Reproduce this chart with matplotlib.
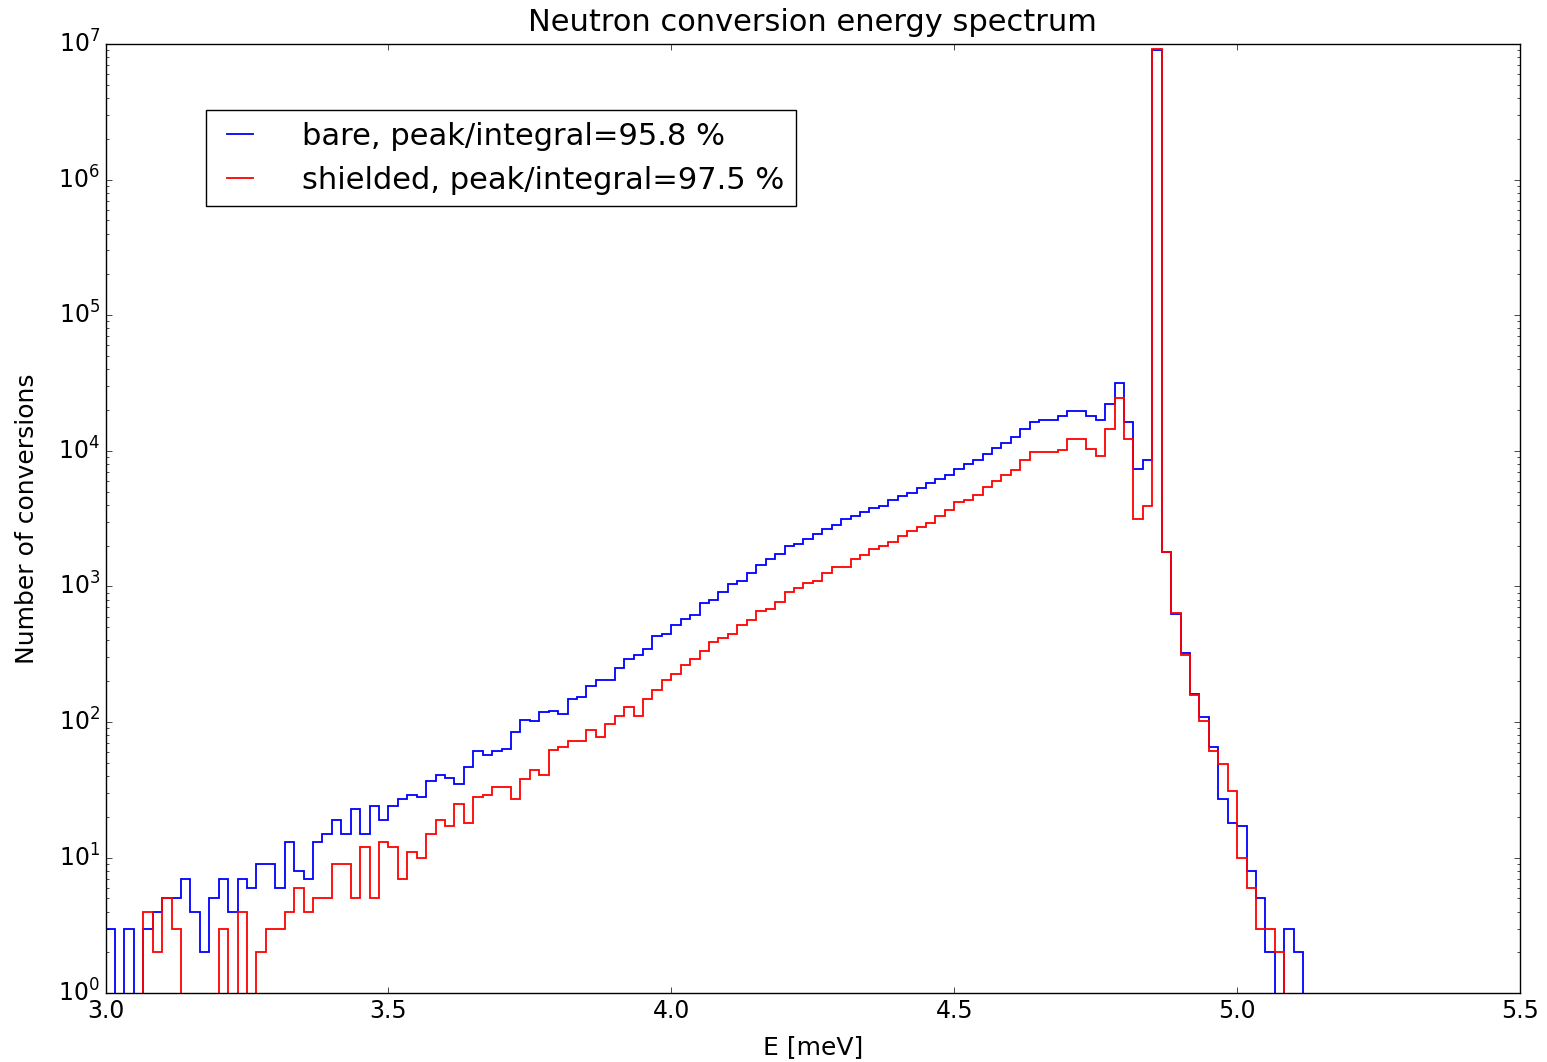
import matplotlib
matplotlib.use("Agg")
import matplotlib.pyplot as plt
from matplotlib.lines import Line2D
import numpy as np

# Histogram binning: 1/60 meV bins starting at 3.0 meV
e_start = 3.0
bin_width = 1.0 / 60.0

# Counts per bin, bare detector
bare_counts = [
    3, 0, 3, 0, 3, 4, 5, 5, 7, 4,
    2, 5, 7, 4, 7, 6, 9, 9, 6, 13,
    8, 7, 13, 15, 19, 15, 23, 15, 24, 19,
    24, 27, 29, 28, 37, 41, 39, 35, 47, 61,
    57, 61, 63, 85, 104, 101, 118, 121, 115, 147,
    154, 185, 205, 205, 249, 292, 313, 346, 431, 444,
    520, 576, 616, 751, 795, 906, 1038, 1104, 1250, 1441,
    1587, 1737, 2000, 2056, 2250, 2427, 2641, 2843, 3133, 3313,
    3563, 3776, 3926, 4346, 4650, 4917, 5298, 5826, 6169, 6641,
    7315, 7965, 8570, 9433, 10450, 11490, 12720, 14500, 16420, 16900,
    16900, 18070, 19780, 19780, 18070, 16900, 22180, 31500, 16420, 7315,
    8570, 9.1e6, 1806, 630, 325, 160, 109, 66, 27, 18,
    17, 8, 5, 2, 0, 3, 2,
]

# Counts per bin, shielded detector
shielded_counts = [
    0, 0, 0, 0, 4, 2, 5, 3, 0, 0,
    0, 0, 3, 0, 4, 0, 2, 3, 3, 4,
    6, 4, 5, 5, 9, 9, 5, 12, 5, 13,
    12, 7, 11, 10, 15, 19, 17, 25, 18, 28,
    29, 33, 33, 27, 38, 44, 41, 62, 66, 73,
    73, 87, 77, 97, 111, 130, 111, 147, 172, 205,
    225, 264, 292, 334, 391, 415, 444, 520, 566, 663,
    682, 772, 906, 970, 1067, 1100, 1250, 1400, 1400, 1587,
    1708, 1880, 1990, 2140, 2357, 2580, 2761, 2953, 3327, 3666,
    4224, 4346, 4730, 5450, 6030, 6641, 7230, 8570, 9770, 9770,
    9770, 10160, 12240, 12240, 10330, 9170, 14430, 24430, 12240, 3133,
    3926, 9.2e6, 1806, 634, 313, 157, 102, 61, 49, 31,
    10, 6, 3, 3, 2, 0, 0,
]

bare_label = "bare, peak/integral=95.8 %"
shielded_label = "shielded, peak/integral=97.5 %"


def plot_spectrum():
    plt.style.use("classic")
    plt.rcParams["font.family"] = ["DejaVu Sans"]

    n_bins = len(bare_counts)
    edges = e_start + bin_width * np.arange(n_bins + 1)
    centers = 0.5 * (edges[:-1] + edges[1:])

    fig = plt.figure(figsize=(15.47, 10.62), dpi=100, facecolor="white")
    ax = fig.add_axes([0.0682, 0.0647, 0.9144, 0.8939])

    ax.hist(centers, bins=edges, weights=bare_counts, histtype="step",
            log=True, color="b", linewidth=1.3)
    ax.hist(centers, bins=edges, weights=shielded_counts, histtype="step",
            log=True, color="r", linewidth=1.3)

    ax.set_xlim(3.0, 5.5)
    ax.set_ylim(1, 1e7)
    ax.set_xticks([3.0, 3.5, 4.0, 4.5, 5.0, 5.5])
    ax.tick_params(labelsize=17)

    ax.set_title("Neutron conversion energy spectrum", fontsize=22, pad=9.5)
    ax.set_xlabel("E [meV]", fontsize=18, labelpad=8.5)
    ax.set_ylabel("Number of conversions", fontsize=18, labelpad=14)

    # Line handles like the old-style legend
    handles = [Line2D([], [], color="b", linewidth=1.3),
               Line2D([], [], color="r", linewidth=1.3)]
    ax.legend(handles, [bare_label, shielded_label], loc="upper left",
              bbox_to_anchor=(0.071, 0.9305), borderaxespad=0,
              fontsize=22, handlelength=1.45, handletextpad=1.33,
              borderpad=0.38, labelspacing=0.5, numpoints=2, frameon=True,
              fancybox=False)

    fig.savefig("out.png", dpi=100, facecolor="white")


if __name__ == "__main__":
    plot_spectrum()
